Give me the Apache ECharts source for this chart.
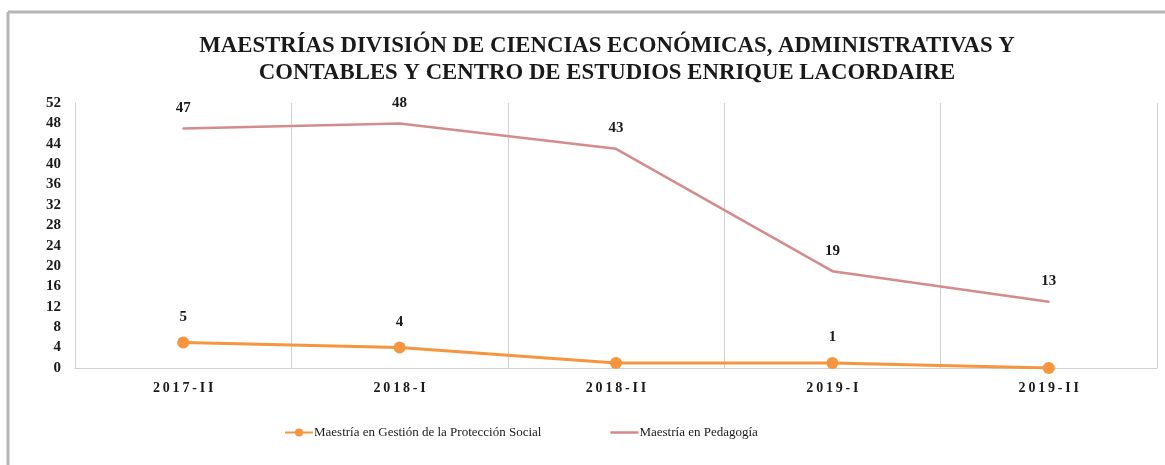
<!DOCTYPE html>
<html>
<head>
<meta charset="utf-8">
<script src="https://cdn.jsdelivr.net/npm/echarts@6/dist/echarts.min.js"></script>
<style>
  html, body { margin: 0; padding: 0; background: #fff; }
  #chart { width: 1165px; height: 465px; }
</style>
</head>
<body>
<div id="chart"></div>
<script>
const periodos = ["2017-II", "2018-I", "2018-II", "2019-I", "2019-II"];
const gestionSocial = [5, 4, 1, 1, 0];
const gestionEtiqueta = [true, true, false, true, false];
const pedagogia = [47, 48, 43, 19, 13];
const yTicks = { min: 0, max: 52, interval: 4 };

const serif = "'Liberation Serif', 'DejaVu Serif', serif";

const chart = echarts.init(document.getElementById("chart"));
const option = {
  backgroundColor: "#fff",
  animation: false,
  title: {
    text: "MAESTRÍAS DIVISIÓN DE CIENCIAS ECONÓMICAS, ADMINISTRATIVAS Y\nCONTABLES Y CENTRO DE ESTUDIOS ENRIQUE LACORDAIRE",
    left: 602,
    top: 28,
    textAlign: "center",
    textStyle: {
      fontFamily: serif,
      fontWeight: "bold",
      fontSize: 22.8,
      lineHeight: 27,
      color: "#1a1a1a"
    }
  },
  graphic: [
    { type: "line", shape: { x1: 8, y1: 12, x2: 1165, y2: 12 }, style: { stroke: "#b5b5b5", lineWidth: 3 } },
    { type: "line", shape: { x1: 8, y1: 12, x2: 8, y2: 465 }, style: { stroke: "#b5b5b5", lineWidth: 3 } }
  ],
  legend: {
    bottom: 21,
    left: 279,
    itemGap: 69,
    itemWidth: 28,
    itemHeight: 10,
    textStyle: { fontFamily: serif, fontSize: 13, color: "#1a1a1a", padding: [0, 0, 0, -4] },
    data: [
      { name: "Maestría en Gestión de la Protección Social" },
      { name: "Maestría en Pedagogía", icon: "path://M0,0 L28,0 L28,2.5 L0,2.5 Z" }
    ]
  },
  grid: { left: 75, right: 8, top: 103, bottom: 97 },
  xAxis: {
    type: "category",
    data: periodos,
    boundaryGap: true,
    axisLine: { show: true, lineStyle: { color: "#d0d0d0", width: 1 } },
    axisTick: { show: false },
    splitLine: { show: true, lineStyle: { color: "#d0d0d0", width: 1 } },
    axisLabel: {
      fontFamily: serif,
      fontWeight: "bold",
      fontSize: 14,
      color: "#1a1a1a",
      margin: 13,
      formatter: v => v.split("").join("\u2009")
    }
  },
  yAxis: {
    type: "value",
    min: yTicks.min,
    max: yTicks.max,
    interval: yTicks.interval,
    axisLine: { show: true, lineStyle: { color: "#d0d0d0" } },
    axisTick: { show: false },
    splitLine: { show: false },
    axisLabel: {
      fontFamily: serif,
      fontWeight: "bold",
      fontSize: 15,
      color: "#1a1a1a",
      margin: 14
    }
  },
  series: [
    {
      name: "Maestría en Gestión de la Protección Social",
      type: "line",
      data: gestionSocial.map((v, i) => ({
        value: v,
        label: { show: gestionEtiqueta[i] }
      })),
      symbol: "circle",
      symbolSize: 12,
      itemStyle: { color: "#f7953f" },
      lineStyle: { color: "#f7953f", width: 3 },
      label: {
        position: "top",
        distance: 12,
        fontFamily: serif,
        fontWeight: "bold",
        fontSize: 15,
        color: "#1a1a1a"
      },
      z: 3
    },
    {
      name: "Maestría en Pedagogía",
      type: "line",
      data: pedagogia,
      symbol: "circle",
      symbolSize: 2,
      itemStyle: { color: "#d48b8b" },
      lineStyle: { color: "#d48b8b", width: 2.5 },
      label: {
        show: true,
        position: "top",
        distance: 12,
        fontFamily: serif,
        fontWeight: "bold",
        fontSize: 15,
        color: "#1a1a1a"
      }
    }
  ]
};
chart.setOption(option);
window.onresize = () => {
  chart.resize();
};
</script>
</body>
</html>
